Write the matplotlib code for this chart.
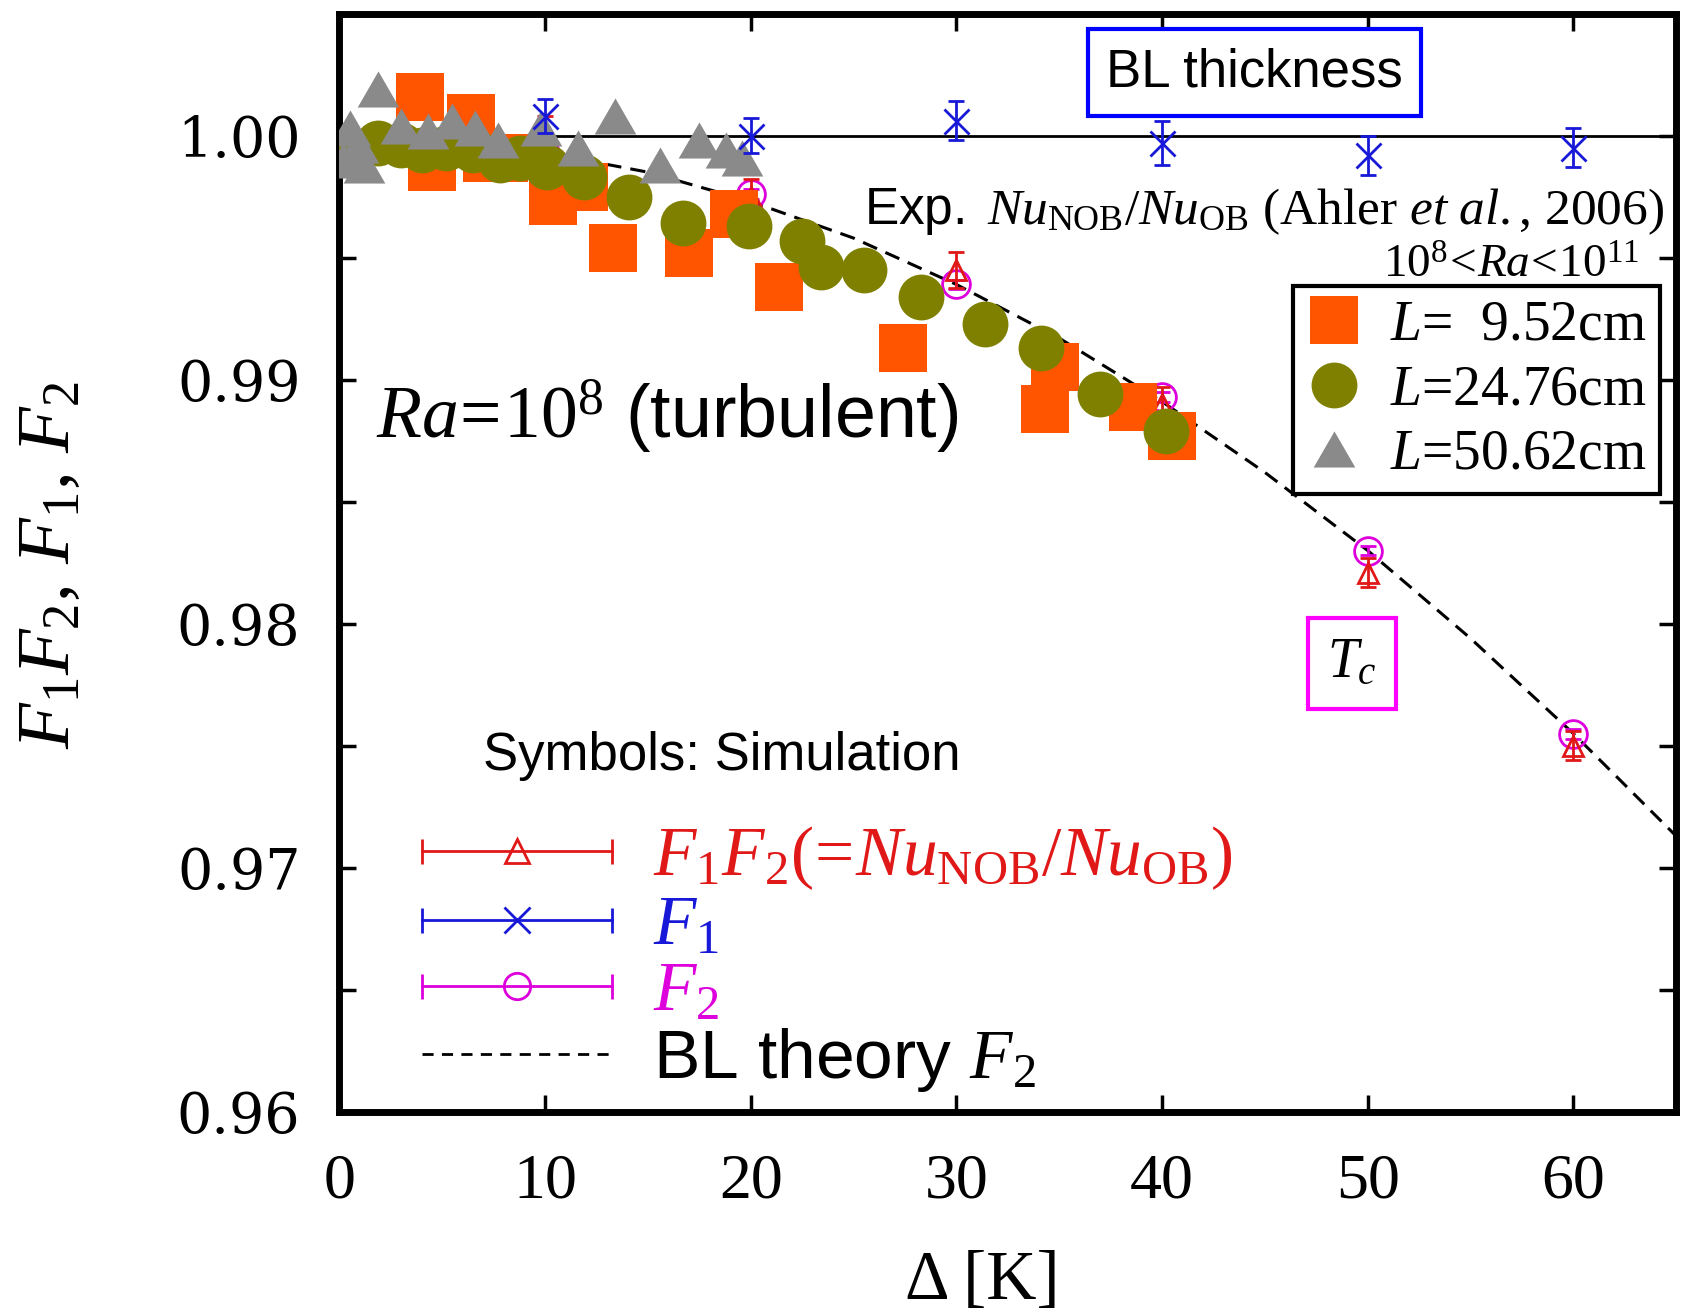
import numpy as np
import matplotlib.pyplot as plt
from matplotlib.lines import Line2D
from matplotlib.legend_handler import HandlerLine2D, HandlerTuple
from matplotlib.ticker import MultipleLocator, FormatStrFormatter

plt.rcParams['mathtext.fontset'] = 'custom'
plt.rcParams['mathtext.rm'] = 'Liberation Serif'
plt.rcParams['mathtext.it'] = 'Liberation Serif:italic'
plt.rcParams['mathtext.bf'] = 'Liberation Serif:bold'
plt.rcParams['mathtext.sf'] = 'Liberation Sans'
plt.rcParams['font.family'] = 'Liberation Sans'

# simulation, Ra = 1e8
sim_dT = [10, 20, 30, 40, 50, 60]
f1f2 = [1.0001, 0.9975, 0.9945, 0.9890, 0.9821, 0.9750]
f1f2_err = [0.0007, 0.0007, 0.00075, 0.0007, 0.0006, 0.0006]
f1 = [1.0008, 1.0000, 1.0006, 0.9997, 0.9992, 0.9995]
f1_err = [0.0007, 0.0007, 0.0008, 0.0009, 0.0008, 0.0008]
f2 = [0.9993, 0.9976, 0.9939, 0.9893, 0.9830, 0.9755]
f2_err = [0.0002, 0.0002, 0.0002, 0.0002, 0.0002, 0.0002]

# BL theory F2 (dashed)
theory_dT = [0, 5, 10, 15, 20, 25, 30, 35, 40, 45, 50, 55, 60, 65]
theory_f2 = [1.0000, 0.9998, 0.9993, 0.9985, 0.9973, 0.9958, 0.9939,
             0.9917, 0.9891, 0.9862, 0.9830, 0.9794, 0.9755, 0.9713]

# experiment Nu_NOB/Nu_OB (Ahlers et al. 2006)
exp1_dT = [3.9, 4.5, 6.4, 7.2, 8.0, 10.4, 11.9, 13.3, 17.0, 19.2, 21.4,
           27.4, 34.3, 34.8, 38.6, 40.5]
exp1_r = [1.0016, 0.9987, 1.0007, 0.9991, 0.9991, 0.9973, 0.9979, 0.9954,
          0.9952, 0.9968, 0.9938, 0.9913, 0.9888, 0.9905, 0.9889, 0.9877]
exp2_dT = [0.2, 1.9, 3.0, 4.0, 5.2, 6.5, 7.8, 8.8, 10.1, 11.9, 14.1, 16.7,
           19.9, 22.5, 23.4, 25.5, 28.3, 31.4, 34.1, 37.0, 40.2]
exp2_r = [0.9993, 0.9997, 0.9996, 0.9994, 0.9995, 0.9994, 0.9990, 0.9991,
          0.9987, 0.9983, 0.9975, 0.9964, 0.9963, 0.9957, 0.9946, 0.9945,
          0.9934, 0.9923, 0.9913, 0.9894, 0.9879]
exp3_dT = [0.2, 0.5, 0.9, 1.2, 1.9, 3.0, 4.3, 5.5, 6.6, 7.7, 9.8, 11.6,
           13.4, 15.6, 17.5, 18.8, 19.6]
exp3_r = [0.9990, 1.0003, 0.9996, 0.9988, 1.0019, 1.0004, 1.0002, 1.0006,
          1.0003, 0.9998, 1.0003, 0.9995, 1.0008, 0.9988, 0.9998, 0.9994,
          0.9991]
exp_labels = [r'$L$=  9.52cm', r'$L$=24.76cm', r'$L$=50.62cm']

c_sq = '#ff5500'
c_ci = '#808000'
c_tr = '#8a8a8a'
c_red = '#e01818'
c_blue = '#1818d8'
c_mag = '#dd00dd'
tri = [(-1, -0.866), (1, -0.866), (0, 0.866), (-1, -0.866)]

fig = plt.figure(figsize=(16.84, 13.11), dpi=100)
ax = fig.add_axes([0.2015, 0.1518, 0.7939, 0.8379])

ax.axhline(1.0, color='k', lw=2, zorder=1)
ax.plot(theory_dT, theory_f2, color='k', lw=2.2, dashes=(5, 3), zorder=1.5)

ax.errorbar(sim_dT, f2, yerr=f2_err, fmt='o', ms=20, mfc='none', mec=c_mag,
            mew=2, ecolor=c_mag, elinewidth=2, capsize=6, capthick=2, zorder=2)
ax.errorbar(sim_dT, f1f2, yerr=f1f2_err, fmt='^', ms=15, mfc='none', mec=c_red,
            mew=2, ecolor=c_red, elinewidth=2, capsize=6, capthick=2, zorder=2.1)

ax.plot(exp1_dT, exp1_r, 's', ms=34, color=c_sq, mew=0, zorder=3)
ax.plot(exp2_dT, exp2_r, 'o', ms=33, color=c_ci, mew=0, zorder=3.1)
ax.plot(exp3_dT, exp3_r, marker=tri, ls='none', ms=30, color=c_tr, mew=0, zorder=3.2)

ax.errorbar(sim_dT, f1, yerr=f1_err, fmt='x', ms=18, mec=c_blue, mew=2,
            ecolor=c_blue, elinewidth=2, capsize=6, capthick=2, zorder=4)

ax.set_xlim(0, 65)
ax.set_ylim(0.96, 1.005)
ax.xaxis.set_major_locator(MultipleLocator(10))
ax.yaxis.set_major_locator(MultipleLocator(0.01))
ax.yaxis.set_minor_locator(MultipleLocator(0.005))
ax.yaxis.set_major_formatter(FormatStrFormatter('%.2f'))
ax.tick_params(which='both', direction='in', top=True, right=True,
               length=12, width=2.5)
ax.tick_params(axis='x', pad=30, labelsize=46)
ax.tick_params(axis='y', pad=28, labelsize=40)
for lab in ax.get_xticklabels():
    lab.set_fontfamily('Liberation Serif')
for lab in ax.get_yticklabels():
    lab.set_fontfamily('DejaVu Serif')
for sp in ax.spines.values():
    sp.set_linewidth(5)

ax.set_xlabel('Δ [K]', fontsize=50, family='Liberation Serif')
ax.xaxis.set_label_coords(0.481, -0.126)
ax.set_ylabel(r'$F_1F_2$, $F_1$, $F_2$', fontsize=54, family='Liberation Serif')
ax.yaxis.set_label_coords(-0.19, 0.498)

# annotations
ax.text(44.5, 1.0026, 'BL thickness', fontsize=38, ha='center', va='center',
        bbox=dict(boxstyle='square,pad=0.35', fc='white', ec='#0000ff', lw=3))
ax.text(64.4, 0.9969,
        r'$\mathsf{Exp.}$ $Nu_\mathrm{NOB}/Nu_\mathrm{OB}$ (Ahler $et\ al.{,}$ 2006)',
        fontsize=37, family='Liberation Serif', ha='right', va='center')
ax.text(63.2, 0.99465, r'$10^8\!<\!Ra\!<\!10^{11}$', fontsize=34,
        ha='right', va='center')
ax.text(1.8, 0.9885, r'$Ra\!=\!10^8$ (turbulent)', fontsize=53, ha='left', va='center')
ax.text(7.0, 0.9746, 'Symbols: Simulation', fontsize=38, ha='left', va='center')
ax.text(49.23, 0.97838, r'$T_c$', fontsize=40, ha='center', va='center',
        bbox=dict(boxstyle='square,pad=0.35', fc='white', ec='#ff00ff', lw=3))

# legend for experiment
h_sq = Line2D([], [], marker='s', ls='none', ms=34, color=c_sq, mew=0)
h_ci = Line2D([], [], marker='o', ls='none', ms=33, color=c_ci, mew=0)
h_tr = Line2D([], [], marker=tri, ls='none', ms=30, color=c_tr, mew=0)
leg1 = ax.legend([h_sq, h_ci, h_tr], exp_labels, loc='upper right',
                 bbox_to_anchor=(0.988, 0.752), borderaxespad=0, frameon=True,
                 fancybox=False, edgecolor='k', framealpha=1,
                 prop={'family': 'Liberation Serif', 'size': 40},
                 borderpad=0.25, handlelength=1.0, handletextpad=0.5,
                 labelspacing=0.22, numpoints=1)
leg1.get_frame().set_linewidth(3)
ax.add_artist(leg1)

# legend for simulation
sim_labels = [r'$F_1F_2(\!=\!Nu_\mathrm{NOB}/Nu_\mathrm{OB})$', r'$F_1$', r'$F_2$',
              r'BL theory $F_2$']
hm_red = Line2D([], [], color=c_red, lw=2, marker='^', ms=17, mfc='none', mew=2)
hc_red = Line2D([], [], color=c_red, ls='none', marker='|', ms=18, mew=2)
hm_blue = Line2D([], [], color=c_blue, lw=2, marker='x', ms=19, mew=2)
hc_blue = Line2D([], [], color=c_blue, ls='none', marker='|', ms=18, mew=2)
hm_mag = Line2D([], [], color=c_mag, lw=2, marker='o', ms=19, mfc='none', mew=2)
hc_mag = Line2D([], [], color=c_mag, ls='none', marker='|', ms=18, mew=2)
h_dash = Line2D([], [], color='k', lw=2, dashes=(4, 3))
cap_handler = HandlerLine2D(numpoints=2, marker_pad=0)
leg2 = ax.legend([(hm_red, hc_red), (hm_blue, hc_blue), (hm_mag, hc_mag), h_dash],
                 sim_labels, loc='upper left', bbox_to_anchor=(0.062, 0.262),
                 borderaxespad=0, borderpad=0, frameon=False,
                 prop={'family': 'Liberation Sans', 'size': 50},
                 handlelength=2.74, handletextpad=0.59, labelspacing=0.03,
                 numpoints=1,
                 handler_map={tuple: HandlerTuple(ndivide=1),
                              hc_red: cap_handler, hc_blue: cap_handler,
                              hc_mag: cap_handler})
for t, c in zip(leg2.get_texts(), [c_red, c_blue, c_mag, 'k']):
    t.set_color(c)

fig.savefig('out.png', dpi=100)
